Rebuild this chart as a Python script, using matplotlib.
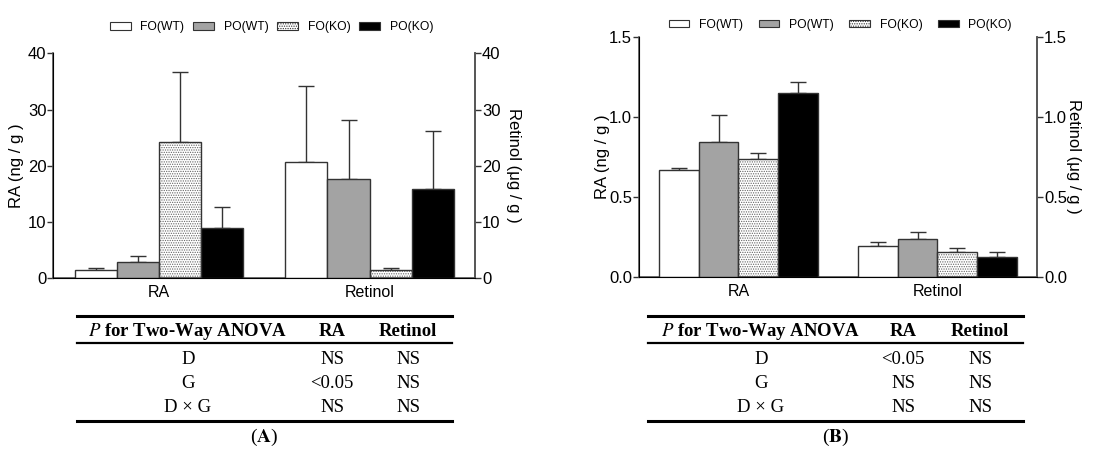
import matplotlib
matplotlib.use('Agg')
import matplotlib.pyplot as plt
from matplotlib.patches import Patch
from matplotlib.lines import Line2D
import numpy as np

plt.rcParams['font.family'] = ['Liberation Sans', 'DejaVu Sans']
plt.rcParams['hatch.linewidth'] = 0.6

groups = ['RA', 'Retinol']
series = ['FO(WT)', 'PO(WT)', 'FO(KO)', 'PO(KO)']

# panel A: means and upper error (mean + SE) per series, [RA, Retinol]
a_mean = {'FO(WT)': [1.4, 20.6], 'PO(WT)': [2.9, 17.7],
          'FO(KO)': [24.3, 1.45], 'PO(KO)': [8.9, 15.8]}
a_top = {'FO(WT)': [1.8, 34.2], 'PO(WT)': [4.0, 28.1],
         'FO(KO)': [36.7, 1.9], 'PO(KO)': [12.6, 26.1]}

# panel B
b_mean = {'FO(WT)': [0.665, 0.194], 'PO(WT)': [0.84, 0.238],
          'FO(KO)': [0.738, 0.156], 'PO(KO)': [1.15, 0.123]}
b_top = {'FO(WT)': [0.679, 0.215], 'PO(WT)': [1.013, 0.281],
         'FO(KO)': [0.771, 0.181], 'PO(KO)': [1.22, 0.152]}

a_table = [['D', 'NS', 'NS'], ['G', '<0.05', 'NS'], ['D \u00d7 G', 'NS', 'NS']]
b_table = [['D', '<0.05', 'NS'], ['G', 'NS', 'NS'], ['D \u00d7 G', 'NS', 'NS']]

styles = {'FO(WT)': dict(color='white', hatch=None),
          'PO(WT)': dict(color='#a3a3a3', hatch=None),
          'FO(KO)': dict(color='white', hatch='.......'),
          'PO(KO)': dict(color='black', hatch=None)}
edge = '#333333'
W = 0.2

fig = plt.figure(figsize=(11.13, 4.53), dpi=100)


def panel(rect, means, tops, ylim, yticks, fmt, lpad, rpad):
    ax = fig.add_axes(rect)
    x = np.arange(len(groups))
    for i, s in enumerate(series):
        pos = x + (i - 1.5) * W
        st = styles[s]
        if st['hatch']:
            ax.bar(pos, means[s], W, color=st['color'], edgecolor='#666666',
                   hatch=st['hatch'], linewidth=0, zorder=2)
            ax.bar(pos, means[s], W, fill=False, edgecolor=edge, linewidth=1, zorder=3)
        else:
            ax.bar(pos, means[s], W, color=st['color'], edgecolor=edge, linewidth=1, zorder=3)
        err = np.array(tops[s]) - np.array(means[s])
        ax.errorbar(pos, means[s], yerr=[np.zeros_like(err), err], fmt='none',
                    ecolor=edge, elinewidth=1, capsize=6, capthick=1, zorder=1)
    ax.set_xlim(-0.5, 1.5)
    ax.set_ylim(*ylim)
    ax.set_yticks(yticks)
    ax.set_yticklabels([fmt.format(v) for v in yticks])
    ax.set_xticks(x)
    ax.set_xticklabels(groups, fontsize=11.5)
    ax.tick_params(axis='x', length=0, pad=5)
    ax.tick_params(axis='y', labelsize=12, length=4, width=1, color=edge, pad=1)
    ax.spines['top'].set_visible(False)
    for sp in ['left', 'right', 'bottom']:
        ax.spines[sp].set_color('#555555')
        ax.spines[sp].set_linewidth(1.2)
    ax.set_ylabel('RA (ng / g )', fontsize=12, labelpad=lpad)
    ax2 = ax.twinx()
    ax2.set_ylim(*ylim)
    ax2.set_yticks(yticks)
    ax2.set_yticklabels([fmt.format(v) for v in yticks])
    ax2.tick_params(axis='y', labelsize=12, length=4, width=1, color=edge, pad=1)
    ax2.spines['top'].set_visible(False)
    ax2.spines['right'].set_color('#555555')
    ax2.spines['right'].set_linewidth(1.2)
    ax2.set_ylabel('Retinol (\u03bcg / g )', fontsize=12, rotation=270, labelpad=rpad)
    return ax


def legend(center_x, y, colsp):
    handles = []
    for s in series:
        st = styles[s]
        handles.append(Patch(facecolor=st['color'], edgecolor=edge,
                             hatch=st['hatch'], linewidth=0.8))
    fig.legend(handles, series, loc='center', bbox_to_anchor=(center_x, y),
               ncol=4, frameon=False, fontsize=8.7, handlelength=1.7,
               handleheight=0.6, columnspacing=colsp, handletextpad=0.8)


def table(x0, x1, cols, rows, label):
    serif = ['Liberation Serif', 'DejaVu Serif']
    H = 453.0
    W_ = 1113.0
    def fy(py):
        return 1 - py / H
    for py, lw in [(316, 2.2), (343, 1.6), (421, 2.2)]:
        fig.add_artist(Line2D([x0 / W_, x1 / W_], [fy(py), fy(py)],
                              color='black', linewidth=lw))
    fig.text(cols[0] / W_, fy(332), r'$\mathbf{\mathit{P}}$' + ' for Two-Way ANOVA',
             ha='center', va='center', fontsize=13.5, fontweight='bold', family=serif,
             math_fontfamily='stix')
    fig.text(cols[1] / W_, fy(332), 'RA', ha='center', va='center',
             fontsize=13.5, fontweight='bold', family=serif)
    fig.text(cols[2] / W_, fy(332), 'Retinol', ha='center', va='center',
             fontsize=13.5, fontweight='bold', family=serif)
    for r, py in zip(rows, [359, 384, 408]):
        for c, t in zip(cols, r):
            fig.text(c / W_, fy(py), t, ha='center', va='center',
                     fontsize=13.5, family=serif)
    fig.text((x0 + x1) / 2 / W_, fy(437), '(' + r'$\mathbf{' + label + '}$' + ')',
             ha='center', va='center', fontsize=14, family=serif,
             math_fontfamily='stix')


panel([0.048, 0.3857, 0.3788, 0.4966], a_mean, a_top, (0, 40), [0, 10, 20, 30, 40],
      '{:g}', 3, 15)
panel([0.5741, 0.389, 0.3576, 0.530], b_mean, b_top, (0, 1.5), [0.0, 0.5, 1.0, 1.5],
      '{:.1f}', -1, 10)
legend(0.244, 0.94, 0.75)
legend(0.755, 0.945, 1.3)
table(77, 452, [188, 332, 408], a_table, 'A')
table(648, 1023, [761, 903, 980], b_table, 'B')

fig.savefig('out.png', dpi=100)
